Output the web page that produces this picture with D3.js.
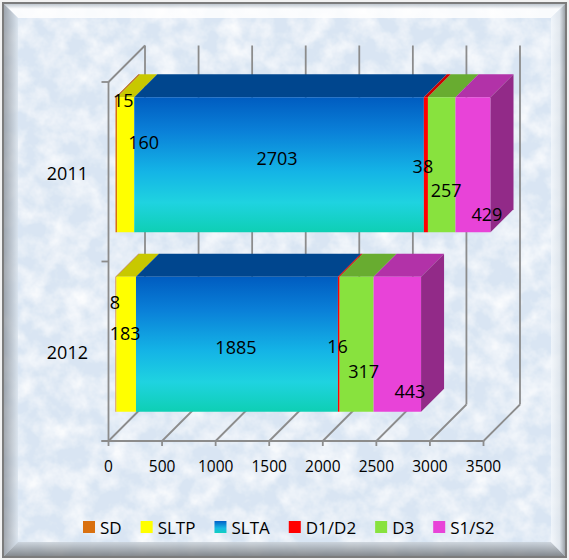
<!DOCTYPE html>
<html>
<head>
<meta charset="utf-8">
<script src="https://cdn.jsdelivr.net/npm/d3@7/dist/d3.min.js"></script>
<style>
  html, body { margin: 0; padding: 0; background: #f2f2f2; }
  svg { display: block; }
  text { font-family: "Open Sans", "Liberation Sans", sans-serif; fill: #000; }
</style>
</head>
<body>
<svg id="chart" width="569" height="560"></svg>
<script>
// ---- data ----
const categories = ["2011", "2012"];
const seriesNames = ["SD", "SLTP", "SLTA", "D1/D2", "D3", "S1/S2"];
const values2011 = [15, 160, 2703, 38, 257, 429];
const values2012 = [8, 183, 1885, 16, 317, 443];
const tickValues = [0, 500, 1000, 1500, 2000, 2500, 3000, 3500];

// ---- styles ----
const frontColors = ["#d9700f", "#ffff00", "url(#sltaGrad)", "#ff0000", "#88e23e", "#e843d8"];
const topColors   = ["#b85a0a", "#c8c800", "#00468e", "#cc0000", "#68ac30", "#b232a8"];
const sideColors  = ["#9a4a08", "#a8a800", "#003a78", "#a00000", "#569428", "#922a88"];
const swatchColors = ["#d9700f", "#ffff00", "url(#sltaSwatch)", "#ff0000", "#88e23e", "#e843d8"];

// label nudges (x, y) relative to the centre of each segment's front face
const labelNudge = {
  "2011": [[7, -65], [18, -23], [-2, -6.5], [-3, 1.5], [4.5, 25], [8.5, 49.5]],
  "2012": [[-1, -42], [-1, -11.5], [-1, 2.5], [-1.3, 2], [7, 27], [12.5, 47]]
};

const W = 569, H = 560;
const svg = d3.select("#chart");
const defs = svg.append("defs");

// textured panel background
const tex = defs.append("filter").attr("id", "texture")
  .attr("x", 0).attr("y", 0).attr("width", "100%").attr("height", "100%");
tex.append("feTurbulence").attr("type", "fractalNoise")
  .attr("baseFrequency", "0.045").attr("numOctaves", 4).attr("seed", 7).attr("result", "noise");
tex.append("feColorMatrix").attr("in", "noise").attr("type", "matrix")
  .attr("values", "0 0 0 0 1  0 0 0 0 1  0 0 0 0 1  1.6 0 0 0 -0.55").attr("result", "spots");
tex.append("feComposite").attr("in", "spots").attr("in2", "SourceGraphic").attr("operator", "in").attr("result", "spotsIn");
tex.append("feMerge").call(m => {
  m.append("feMergeNode").attr("in", "SourceGraphic");
  m.append("feMergeNode").attr("in", "spotsIn");
});

const sg = defs.append("linearGradient").attr("id", "sltaGrad")
  .attr("x1", 0).attr("y1", 0).attr("x2", 0).attr("y2", 1);
[[0, "#005cc0"], [0.25, "#0a80d8"], [0.55, "#14b4e6"], [0.78, "#1fd3e0"], [1, "#0ecfb4"]]
  .forEach(([o, c]) => sg.append("stop").attr("offset", o).attr("stop-color", c));
const sw = defs.append("linearGradient").attr("id", "sltaSwatch")
  .attr("x1", 0).attr("y1", 0).attr("x2", 0).attr("y2", 1);
[[0, "#0060c8"], [0.6, "#18b8e4"], [1, "#10d0c0"]]
  .forEach(([o, c]) => sw.append("stop").attr("offset", o).attr("stop-color", c));

function vGrad(id, stops, horizontal) {
  const g = defs.append("linearGradient").attr("id", id)
    .attr("x1", 0).attr("y1", 0).attr("x2", horizontal ? 1 : 0).attr("y2", horizontal ? 0 : 1);
  stops.forEach(([o, c]) => g.append("stop").attr("offset", o).attr("stop-color", c));
}
vGrad("bevTop", [[0, "#b8c0c8"], [0.35, "#ffffff"], [1, "#ffffff"]]);
vGrad("bevBottom", [[0, "#c8d0d8"], [1, "#6e7276"]]);
vGrad("bevLeft", [[0, "#8a9098"], [1, "#d8e2ec"]], true);
vGrad("bevRight", [[0, "#f4f8fc"], [0.6, "#e0e6ec"], [1, "#8a9096"]], true);

// panel
svg.append("rect").attr("x", 3).attr("y", 3).attr("width", W - 6).attr("height", H - 6)
  .attr("fill", "#d9e5f3").attr("filter", "url(#texture)");
const b = 14, L = 4, T = 4, R = W - 4, B = H - 4;
svg.append("polygon").attr("points", [[L, T], [R, T], [R - b, T + b], [L + b, T + b]].join(" "))
  .attr("fill", "url(#bevTop)").attr("opacity", 0.85);
svg.append("polygon").attr("points", [[L, T], [L + b, T + b], [L + b, B - b], [L, B]].join(" "))
  .attr("fill", "url(#bevLeft)").attr("opacity", 0.75);
svg.append("polygon").attr("points", [[L, B], [L + b, B - b], [R - b, B - b], [R, B]].join(" "))
  .attr("fill", "url(#bevBottom)").attr("opacity", 0.8);
svg.append("polygon").attr("points", [[R, T], [R - b, T + b], [R - b, B - b], [R, B]].join(" "))
  .attr("fill", "url(#bevRight)").attr("opacity", 0.8);
svg.append("rect").attr("x", 3).attr("y", 3).attr("width", W - 6).attr("height", H - 6)
  .attr("fill", "none").attr("stroke", "#7c7c7c").attr("stroke-width", 2);

// ---- scales ----
const floorY = 441, topY = 82;
const depth = 36.5;          // full depth of the plot box
const barFront = 7, barDepth = 23;

const x = d3.scaleLinear().domain([0, 3500]).range([108.5, 483.5]).clamp(true);
const y = d3.scaleBand().domain(categories).range([topY, floorY])
  .paddingInner(0.248).paddingOuter(0.124);

const grid = svg.append("g").attr("stroke", "#8c8c8c").attr("stroke-width", 1.8).attr("fill", "none");
// back wall verticals and floor diagonals
tickValues.forEach(v => {
  const x0 = x(v);
  grid.append("line").attr("x1", x0 + depth).attr("y1", floorY - depth)
    .attr("x2", x0 + depth).attr("y2", topY - depth);
  grid.append("line").attr("x1", x0).attr("y1", floorY)
    .attr("x2", x0 + depth).attr("y2", floorY - depth);
  grid.append("line").attr("x1", x0).attr("y1", floorY).attr("x2", x0).attr("y2", floorY + 5);
});
// side wall
grid.append("line").attr("x1", x(0)).attr("y1", topY).attr("x2", x(0) + depth).attr("y2", topY - depth);
grid.append("line").attr("x1", x(0)).attr("y1", topY).attr("x2", x(0)).attr("y2", floorY);
grid.append("line").attr("x1", x(0) - 7).attr("y1", floorY).attr("x2", x(3500)).attr("y2", floorY);
[topY, y.step() + topY, floorY].forEach(yy => {
  grid.append("line").attr("x1", x(0) - 7).attr("y1", yy).attr("x2", x(0)).attr("y2", yy);
});

// ---- bars ----
const rows = [values2011, values2012];
const barsG = svg.append("g");
categories.forEach((cat, ci) => {
  const vals = rows[ci];
  let acc = 0;
  const segs = vals.map((v, i) => {
    const s = { i, v, start: acc, end: acc + v };
    acc += v;
    return s;
  });
  const yTop = y(cat) - barFront, yBot = yTop + y.bandwidth();
  const dx = barDepth, dy = -barDepth;
  const fx = v => x(v) + barFront;
  const g = barsG.append("g");
  const visible = segs.filter(s => fx(s.end) > fx(s.start));
  // top faces
  visible.forEach(s => {
    const a = fx(s.start), c = fx(s.end);
    g.append("polygon")
      .attr("points", [[a, yTop], [c, yTop], [c + dx, yTop + dy], [a + dx, yTop + dy]].join(" "))
      .attr("fill", topColors[s.i]);
  });
  // front faces
  visible.forEach(s => {
    const a = fx(s.start), c = fx(s.end);
    g.append("rect").attr("x", a).attr("y", yTop).attr("width", c - a).attr("height", yBot - yTop)
      .attr("fill", frontColors[s.i]);
  });
  // right end face
  const last = visible[visible.length - 1];
  const e = fx(last.end);
  g.append("polygon")
    .attr("points", [[e, yTop], [e + dx, yTop + dy], [e + dx, yBot + dy], [e, yBot]].join(" "))
    .attr("fill", sideColors[last.i]);

  // value labels
  segs.forEach(s => {
    const cx = (x.copy().clamp(false)(s.start) + x.copy().clamp(false)(s.end)) / 2 + barFront;
    const cy = (yTop + yBot) / 2;
    const [nx, ny] = labelNudge[cat][s.i];
    svg.append("text").attr("x", cx + nx).attr("y", cy + ny)
      .attr("text-anchor", "middle").attr("dominant-baseline", "central")
      .attr("font-size", 18).text(s.v);
  });
});

// ---- axis labels ----
tickValues.forEach(v => {
  svg.append("text").attr("x", x(v)).attr("y", 466)
    .attr("text-anchor", "middle").attr("dominant-baseline", "central")
    .attr("font-size", 15.5).text(v);
});
categories.forEach(cat => {
  svg.append("text").attr("x", 88).attr("y", y(cat) + y.bandwidth() / 2 + 1)
    .attr("text-anchor", "end").attr("dominant-baseline", "central")
    .attr("font-size", 18).text(cat);
});

// ---- legend ----
const legend = svg.append("g");
let lx = 83;
seriesNames.forEach((name, i) => {
  legend.append("rect").attr("x", lx).attr("y", 521).attr("width", 12).attr("height", 12)
    .attr("fill", swatchColors[i]);
  const t = legend.append("text").attr("x", lx + 17).attr("y", 527.5)
    .attr("dominant-baseline", "central").attr("font-size", 17).text(name);
  lx = lx + 17 + t.node().getComputedTextLength() + 19;
});
</script>
</body>
</html>
